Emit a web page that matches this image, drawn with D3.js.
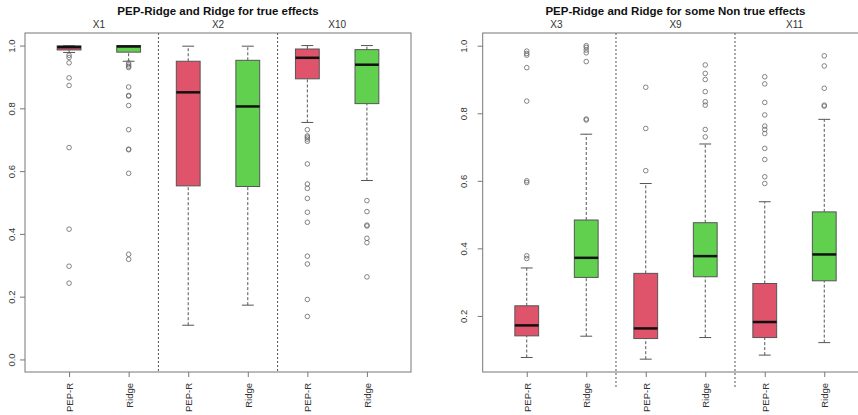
<!DOCTYPE html>
<html>
<head>
<meta charset="utf-8">
<script src="https://cdn.jsdelivr.net/npm/d3@7"></script>
<style>
  body { margin: 0; background: #fff; }
  text { font-family: "Liberation Sans", Arial, sans-serif; fill: #333; }
</style>
</head>
<body>
<svg id="chart" width="858" height="415"></svg>
<script>
const methods = ["PEP-R", "Ridge"];
const boxColors = ["#DF536B", "#61D04F"];

const trueEffects = ["X1", "X2", "X10"];
// [lower whisker, Q1, median, Q3, upper whisker], PEP-R then Ridge per effect
const trueStats = [
    [0.978, 0.986, 0.995, 0.999, 1.0],
    [0.950, 0.979, 0.997, 1.0, 1.0],
    [0.109, 0.553, 0.851, 0.950, 0.998],
    [0.173, 0.551, 0.806, 0.953, 0.998],
    [0.755, 0.894, 0.961, 0.989, 1.0],
    [0.570, 0.815, 0.939, 0.987, 1.0]
];
const trueOutliers = [
    [0.969, 0.962, 0.945, 0.897, 0.873, 0.675, 0.415, 0.297, 0.243],
    [0.945, 0.939, 0.934, 0.930, 0.868, 0.841, 0.839, 0.809, 0.732, 0.670, 0.668, 0.593, 0.335, 0.319],
    [],
    [],
    [0.732, 0.712, 0.708, 0.702, 0.695, 0.623, 0.559, 0.545, 0.513, 0.469, 0.437, 0.329, 0.304, 0.191, 0.137],
    [0.506, 0.471, 0.428, 0.425, 0.386, 0.372, 0.263]
];
const trueTicks = [0, 0.2, 0.4, 0.6, 0.8, 1.0];

const nonTrueEffects = ["X3", "X9", "X11"];
const nonTrueStats = [
    [0.077, 0.141, 0.172, 0.230, 0.342],
    [0.140, 0.314, 0.372, 0.484, 0.738],
    [0.072, 0.133, 0.163, 0.326, 0.592],
    [0.136, 0.316, 0.377, 0.476, 0.709],
    [0.084, 0.136, 0.182, 0.296, 0.538],
    [0.121, 0.304, 0.382, 0.508, 0.782]
];
const nonTrueOutliers = [
    [0.984, 0.977, 0.972, 0.935, 0.836, 0.600, 0.595, 0.378, 0.370],
    [1.0, 0.995, 0.987, 0.979, 0.953, 0.783, 0.780],
    [0.877, 0.755, 0.630],
    [0.943, 0.918, 0.900, 0.864, 0.834, 0.824, 0.752, 0.730],
    [0.908, 0.887, 0.832, 0.795, 0.762, 0.752, 0.740, 0.696, 0.663, 0.612, 0.592],
    [0.970, 0.940, 0.874, 0.824, 0.821]
];
const nonTrueTicks = [0.2, 0.4, 0.6, 0.8, 1.0];

const svg = d3.select("#chart");

function drawPanel(opts) {
    let nBoxes = opts.stats.length;
    let x = d3.scaleLinear()
        .domain([0.26, nBoxes + 0.74])
        .range([opts.left, opts.right]);
    let y = d3.scaleLinear()
        .domain(opts.yDomain)
        .range([opts.bottom, opts.top]);
    let boxW = x(1.4) - x(1);

    let g = svg.append("g");

    // title and group labels
    g.append("text")
        .attr("x", (opts.left + opts.right) / 2)
        .attr("y", 15)
        .attr("text-anchor", "middle")
        .style("font-size", "11.5px")
        .style("font-weight", "bold")
        .style("fill", "#111")
        .text(opts.title);

    g.selectAll("text.group")
        .data(opts.groups)
        .enter().append("text")
        .attr("class", "group")
        .attr("x", (d, i) => x(i * 2 + 1.5))
        .attr("y", 28)
        .attr("text-anchor", "middle")
        .style("font-size", "10px")
        .text(d => d);

    // separators between groups
    g.selectAll("line.sep")
        .data(d3.range(1, opts.groups.length))
        .enter().append("line")
        .attr("x1", d => x(d * 2 + 0.5))
        .attr("x2", d => x(d * 2 + 0.5))
        .attr("y1", opts.top)
        .attr("y2", opts.sepEnd)
        .attr("stroke", "#555")
        .attr("stroke-dasharray", "2,2");

    let boxes = g.selectAll("g.box")
        .data(opts.stats)
        .enter().append("g")
        .attr("class", "box");

    // whiskers
    boxes.append("line")
        .attr("x1", (d, i) => x(i + 1)).attr("x2", (d, i) => x(i + 1))
        .attr("y1", d => y(d[0])).attr("y2", d => y(d[1]))
        .attr("stroke", "#555").attr("stroke-dasharray", "3,2");
    boxes.append("line")
        .attr("x1", (d, i) => x(i + 1)).attr("x2", (d, i) => x(i + 1))
        .attr("y1", d => y(d[3])).attr("y2", d => y(d[4]))
        .attr("stroke", "#555").attr("stroke-dasharray", "3,2");
    [0, 4].forEach(k => {
        boxes.append("line")
            .attr("x1", (d, i) => x(i + 1) - boxW / 4)
            .attr("x2", (d, i) => x(i + 1) + boxW / 4)
            .attr("y1", d => y(d[k])).attr("y2", d => y(d[k]))
            .attr("stroke", "#555");
    });

    boxes.append("rect")
        .attr("x", (d, i) => x(i + 1) - boxW / 2)
        .attr("width", boxW)
        .attr("y", d => y(d[3]))
        .attr("height", d => Math.max(1, y(d[1]) - y(d[3])))
        .attr("fill", (d, i) => boxColors[i % 2])
        .attr("stroke", "#555");

    boxes.append("line")
        .attr("x1", (d, i) => x(i + 1) - boxW / 2)
        .attr("x2", (d, i) => x(i + 1) + boxW / 2)
        .attr("y1", d => y(d[2])).attr("y2", d => y(d[2]))
        .attr("stroke", "#111").attr("stroke-width", 2.5);

    // outliers
    opts.outliers.forEach((vals, i) => {
        g.selectAll(null)
            .data(vals)
            .enter().append("circle")
            .attr("cx", x(i + 1))
            .attr("cy", d => y(d))
            .attr("r", 2.3)
            .attr("fill", "none")
            .attr("stroke", "#666")
            .attr("stroke-width", 0.8);
    });

    // frame
    g.append("rect")
        .attr("x", opts.left).attr("y", opts.top)
        .attr("width", opts.right - opts.left)
        .attr("height", opts.bottom - opts.top)
        .attr("fill", "none").attr("stroke", "#777");

    // y axis
    let yAxis = d3.axisLeft(y)
        .tickValues(opts.ticks)
        .tickFormat(d3.format(".1f"))
        .tickSize(5)
        .tickPadding(0);
    let ya = g.append("g")
        .attr("transform", `translate(${opts.left},0)`)
        .call(yAxis);
    ya.select(".domain").remove();
    ya.selectAll("line").attr("stroke", "#777");
    ya.selectAll("text")
        .attr("x", null).attr("dy", null).attr("y", 0)
        .attr("transform", `translate(${opts.labelOffset},0) rotate(-90)`)
        .attr("text-anchor", "middle")
        .style("font-size", "9.5px")
        .style("fill", "#333");

    // x axis
    let labels = opts.stats.map((d, i) => methods[i % 2]);
    let xAxis = d3.axisBottom(x)
        .tickValues(d3.range(1, nBoxes + 1))
        .tickFormat((d, i) => labels[i])
        .tickSize(5)
        .tickPadding(0);
    let xa = g.append("g")
        .attr("transform", `translate(0,${opts.bottom})`)
        .call(xAxis);
    xa.select(".domain").remove();
    xa.selectAll("line").attr("stroke", "#777");
    xa.selectAll("text")
        .attr("dy", null).attr("y", 0)
        .attr("transform", "translate(3.5,11) rotate(-90)")
        .attr("text-anchor", "end")
        .style("font-size", "9.5px")
        .style("fill", "#333");
}

drawPanel({
    title: "PEP-Ridge and Ridge for true effects",
    groups: trueEffects,
    stats: trueStats,
    outliers: trueOutliers,
    ticks: trueTicks,
    yDomain: [-0.04, 1.04],
    labelOffset: -10,
    sepEnd: 372,
    left: 25, right: 411, top: 33, bottom: 372
});

drawPanel({
    title: "PEP-Ridge and Ridge for some Non true effects",
    groups: nonTrueEffects,
    stats: nonTrueStats,
    outliers: nonTrueOutliers,
    ticks: nonTrueTicks,
    yDomain: [0.034, 1.0376],
    labelOffset: -16,
    sepEnd: 387,
    left: 482.7, right: 868.3, top: 33, bottom: 372
});
</script>
</body>
</html>
